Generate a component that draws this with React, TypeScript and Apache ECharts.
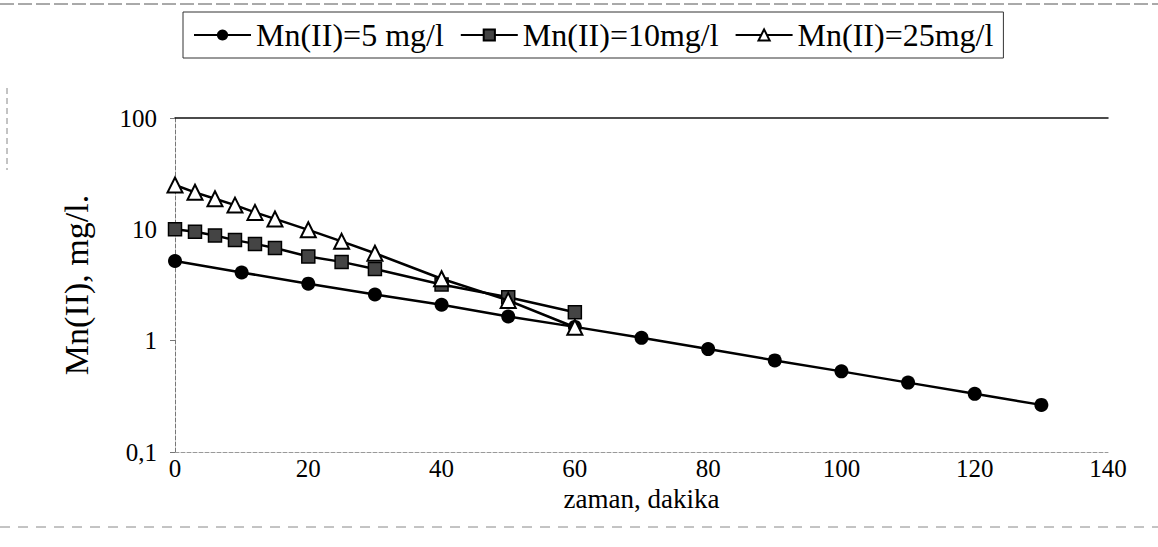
import React, { useEffect, useRef } from "react";
import * as echarts from "echarts";

const xTicks = [0, 20, 40, 60, 80, 100, 120, 140];
const yTickLabels = ["0,1", "1", "10", "100"];

const names = ["Mn(II)=5 mg/l", "Mn(II)=10mg/l", "Mn(II)=25mg/l"];

const t5 = [0, 10, 20, 30, 40, 50, 60, 70, 80, 90, 100, 110, 120, 130];
const c5 = [5.2, 4.1, 3.25, 2.6, 2.1, 1.65, 1.33, 1.06, 0.84, 0.665, 0.53, 0.42, 0.333, 0.265];

const t10 = [0, 3, 6, 9, 12, 15, 20, 25, 30, 40, 50, 60];
const c10 = [10, 9.5, 8.8, 8.0, 7.4, 6.8, 5.7, 5.1, 4.4, 3.2, 2.45, 1.8];

const t25 = [0, 3, 6, 9, 12, 15, 20, 25, 30, 40, 50, 60];
const c25 = [25, 21.5, 18.8, 16.5, 14.2, 12.4, 9.9, 7.8, 6.1, 3.6, 2.3, 1.32];

const FONT = "Liberation Serif";

export default function App() {
  const ref = useRef<HTMLDivElement>(null);
  useEffect(() => {
    if (!ref.current) return;
    const chart = echarts.init(ref.current, undefined, { renderer: "svg" });
    const pair = (xs: number[], ys: number[]) => xs.map((x, i) => [x, ys[i]]);
    const yLabel = (v: number) => {
      const idx = [0.1, 1, 10, 100].findIndex((t) => Math.abs(t - v) < 1e-9);
      return idx >= 0 ? yTickLabels[idx] : "";
    };
    chart.setOption({
      animation: false,
      backgroundColor: "#fff",
      textStyle: { fontFamily: FONT, color: "#000" },
      legend: {
        left: 183,
        top: 12,
        padding: [7, 10],
        itemGap: 16,
        itemWidth: 57,
        itemHeight: 14,
        borderColor: "#333",
        borderWidth: 1,
        data: names,
        textStyle: { fontFamily: FONT, fontSize: 32, color: "#000" },
      },
      grid: { left: 175, top: 118, width: 933, height: 334, containLabel: false },
      xAxis: [
        {
          type: "value",
          min: xTicks[0],
          max: xTicks[xTicks.length - 1],
          interval: 20,
          name: "zaman, dakika",
          nameLocation: "middle",
          nameGap: 13,
          nameTextStyle: { fontFamily: FONT, fontSize: 27, color: "#000" },
          axisLine: { show: true, lineStyle: { color: "#999", type: "dashed", width: 1 } },
          axisTick: { show: false },
          splitLine: { show: false },
          axisLabel: { fontFamily: FONT, fontSize: 25, color: "#000", margin: 4 },
        },
        {
          type: "value",
          position: "top",
          min: 0,
          max: 140,
          interval: 20,
          axisLine: { show: true, lineStyle: { color: "#111", width: 1.5 } },
          axisTick: { show: false },
          axisLabel: { show: false },
          splitLine: { show: false },
        },
      ],
      yAxis: {
        type: "log",
        logBase: 10,
        min: 0.1,
        max: 100,
        name: "Mn(II), mg/l.",
        nameLocation: "middle",
        nameGap: 82,
        nameTextStyle: { fontFamily: FONT, fontSize: 34, color: "#000" },
        axisLine: { show: true, lineStyle: { color: "#777", type: "dashed", width: 1 } },
        axisTick: { show: true, length: 5, lineStyle: { color: "#777" } },
        splitLine: { show: false },
        axisLabel: { fontFamily: FONT, fontSize: 25, color: "#000", margin: 18, formatter: yLabel },
      },
      graphic: [
        { type: "line", shape: { x1: 0, y1: 4, x2: 1158, y2: 4 }, style: { stroke: "#555", lineWidth: 1, lineDash: [14, 4] } },
        { type: "line", shape: { x1: 0, y1: 527, x2: 1158, y2: 527 }, style: { stroke: "#888", lineWidth: 1, lineDash: [10, 8] } },
        { type: "line", shape: { x1: 7, y1: 88, x2: 7, y2: 170 }, style: { stroke: "#888", lineWidth: 1, lineDash: [6, 4] } },
      ],
      series: [
        {
          name: names[0],
          type: "line",
          data: pair(t5, c5),
          symbol: "circle",
          symbolSize: 14,
          lineStyle: { color: "#000", width: 2.5 },
          itemStyle: { color: "#000" },
          z: 2,
        },
        {
          name: names[1],
          type: "line",
          data: pair(t10, c10),
          symbol: "rect",
          symbolSize: 13,
          lineStyle: { color: "#000", width: 2.5 },
          itemStyle: { color: "#444", borderColor: "#000", borderWidth: 1.5 },
          z: 3,
        },
        {
          name: names[2],
          type: "line",
          data: pair(t25, c25),
          symbol: "triangle",
          symbolSize: 15,
          lineStyle: { color: "#000", width: 2.5 },
          itemStyle: { color: "#fff", borderColor: "#000", borderWidth: 2 },
          z: 4,
        },
      ],
    });
    return () => chart.dispose();
  }, []);
  return (
    <div
      ref={ref}
      style={{ position: "fixed", left: 0, top: 0, width: 1158, height: 547 }}
    />
  );
}
